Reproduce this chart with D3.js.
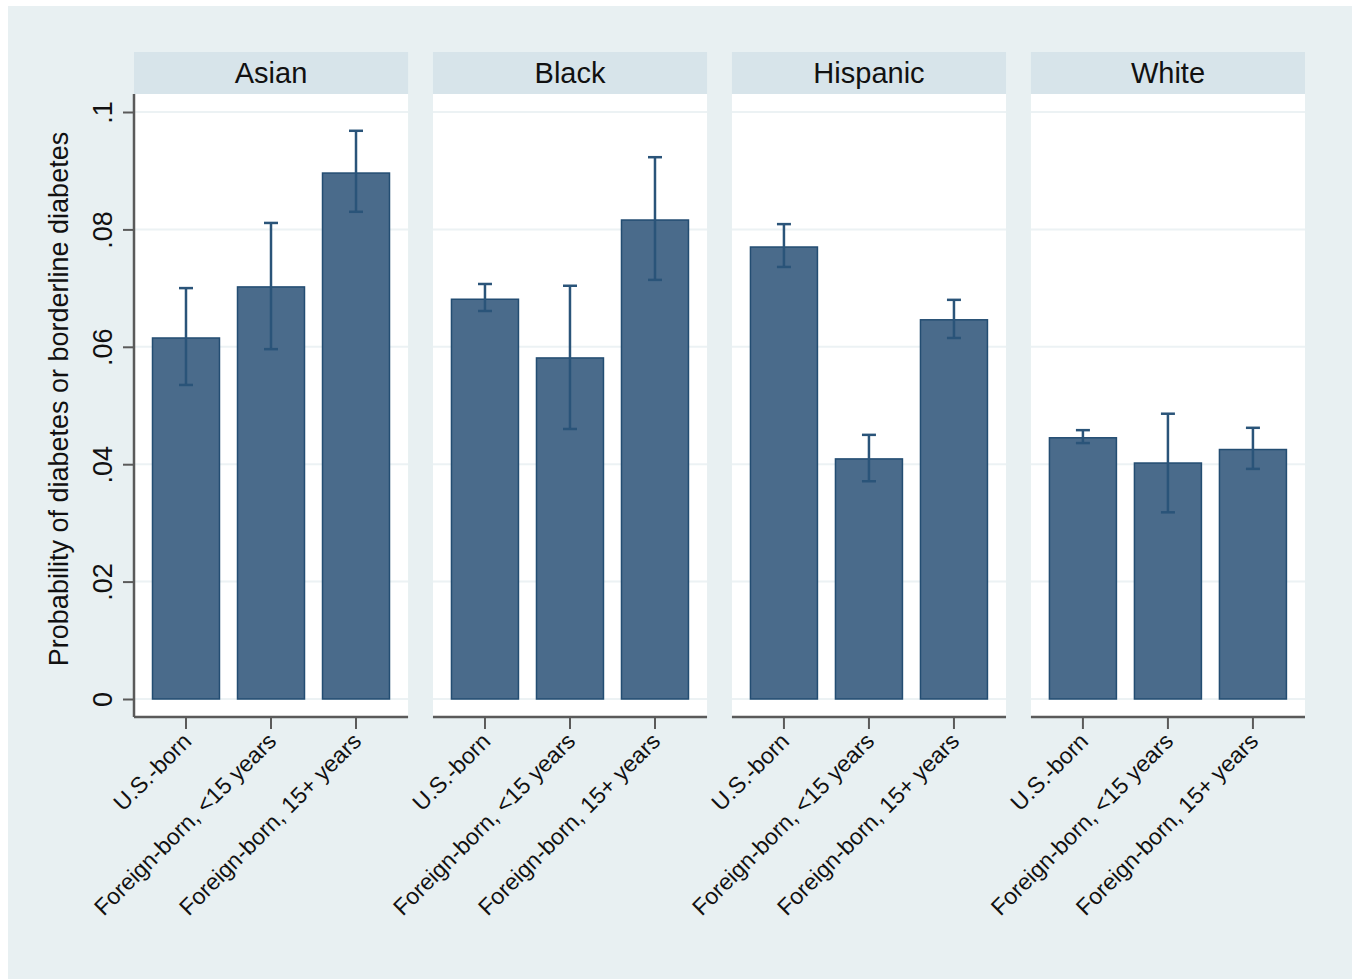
<!DOCTYPE html>
<html>
<head>
<meta charset="utf-8">
<script src="https://cdn.jsdelivr.net/npm/d3@7"></script>
<style>
  html, body { margin: 0; padding: 0; background: #ffffff; }
  svg { display: block; font-family: Arial, "Liberation Sans", sans-serif; }
</style>
</head>
<body>
<svg id="chart" width="1357" height="979"></svg>
<script>
// Panels (race/ethnicity) and nativity groups within each panel
const panels = ["Asian", "Black", "Hispanic", "White"];
const groups = ["U.S.-born", "Foreign-born, <15 years", "Foreign-born, 15+ years"];

// Predicted probability per panel, in group order
const asianValues    = [0.0615, 0.0702, 0.0896];
const blackValues    = [0.0681, 0.0581, 0.0816];
const hispanicValues = [0.0770, 0.0409, 0.0646];
const whiteValues    = [0.0445, 0.0402, 0.0425];

// 95% confidence bounds
const asianLower    = [0.0535, 0.0596, 0.0830];
const asianUpper    = [0.0700, 0.0811, 0.0968];
const blackLower    = [0.0661, 0.0460, 0.0714];
const blackUpper    = [0.0707, 0.0704, 0.0923];
const hispanicLower = [0.0736, 0.0371, 0.0615];
const hispanicUpper = [0.0809, 0.0450, 0.0680];
const whiteLower    = [0.0436, 0.0318, 0.0392];
const whiteUpper    = [0.0458, 0.0486, 0.0462];

const yTicks = [0, 0.02, 0.04, 0.06, 0.08, 0.1];
const yTickLabels = ["0", ".02", ".04", ".06", ".08", ".1"];
const yTitle = "Probability of diabetes or borderline diabetes";

const panelData = [
  { name: panels[0], values: asianValues,    lo: asianLower,    hi: asianUpper },
  { name: panels[1], values: blackValues,    lo: blackLower,    hi: blackUpper },
  { name: panels[2], values: hispanicValues, lo: hispanicLower, hi: hispanicUpper },
  { name: panels[3], values: whiteValues,    lo: whiteLower,    hi: whiteUpper }
];

const svg = d3.select("#chart");

// Colours
const bgColor = "#e8f0f2";
const stripColor = "#d7e4ea";
const barFill = "#4a6b8b";
const barStroke = "#234d72";
const ciColor = "#2a5479";
const axisColor = "#5a5a5a";
const gridColor = "#ecf2f4";

// Layout
const stripTop = 52, stripBottom = 94;
const plotBottom = 717;
const panelX = d3.scaleBand().domain(panels).range([134, 1305]).paddingInner(0.0833);
const panelW = panelX.bandwidth();

const y = d3.scaleLinear().domain([0, 0.1]).range([699, 112]);

// Outer graph region
svg.append("rect").attr("x", 8).attr("y", 6).attr("width", 1344).attr("height", 973).attr("fill", bgColor);

panelData.forEach((p, i) => {
  const x0 = panelX(p.name);
  const g = svg.append("g").attr("transform", `translate(${x0},0)`);

  // Header strip
  g.append("rect").attr("x", 0).attr("y", stripTop).attr("width", panelW).attr("height", stripBottom - stripTop)
    .attr("fill", stripColor);
  g.append("text").attr("x", panelW / 2).attr("y", (stripTop + stripBottom) / 2).attr("dy", "0.36em")
    .attr("text-anchor", "middle").attr("font-size", 29).attr("fill", "#111").text(p.name);

  // Plot area
  g.append("rect").attr("x", 0).attr("y", stripBottom).attr("width", panelW).attr("height", plotBottom - stripBottom)
    .attr("fill", "#ffffff");

  // Gridlines
  g.selectAll("line.grid").data(yTicks).join("line").attr("class", "grid")
    .attr("x1", 0).attr("x2", panelW).attr("y1", d => y(d)).attr("y2", d => y(d))
    .attr("stroke", gridColor).attr("stroke-width", 2);

  const x = d3.scaleBand().domain(groups).range([18.5, 255.5]).paddingInner(0.212);
  const bw = x.bandwidth();

  // Bars
  g.selectAll("rect.bar").data(groups).join("rect").attr("class", "bar")
    .attr("x", d => x(d)).attr("width", bw)
    .attr("y", (d, j) => y(p.values[j])).attr("height", (d, j) => y(0) - y(p.values[j]))
    .attr("fill", barFill).attr("stroke", barStroke).attr("stroke-width", 1.5);

  // Confidence intervals
  const ci = g.selectAll("g.ci").data(groups).join("g").attr("class", "ci")
    .attr("transform", d => `translate(${x(d) + bw / 2},0)`);
  ci.append("line").attr("x1", 0).attr("x2", 0)
    .attr("y1", (d, j) => y(p.hi[j])).attr("y2", (d, j) => y(p.lo[j]))
    .attr("stroke", ciColor).attr("stroke-width", 2.5);
  ci.append("line").attr("x1", -7).attr("x2", 7)
    .attr("y1", (d, j) => y(p.hi[j])).attr("y2", (d, j) => y(p.hi[j]))
    .attr("stroke", ciColor).attr("stroke-width", 2.5);
  ci.append("line").attr("x1", -7).attr("x2", 7)
    .attr("y1", (d, j) => y(p.lo[j])).attr("y2", (d, j) => y(p.lo[j]))
    .attr("stroke", ciColor).attr("stroke-width", 2.5);

  // X axis spanning the full panel width
  const xAxis = g.append("g").attr("transform", `translate(0,${plotBottom})`)
    .call(d3.axisBottom(x).tickSize(12).tickSizeOuter(0));
  xAxis.select(".domain").attr("d", `M0,0H${panelW}`).attr("stroke", axisColor).attr("stroke-width", 2.5);
  xAxis.selectAll(".tick line").attr("stroke", axisColor).attr("stroke-width", 2);
  xAxis.selectAll(".tick text")
    .attr("font-size", 23).attr("fill", "#111").attr("font-family", "Arial, 'Liberation Sans', sans-serif")
    .attr("text-anchor", "end")
    .attr("transform", "translate(-5,14) rotate(-45)")
    .attr("x", 0).attr("y", 0).attr("dy", "0.72em");

  // Y axis on the first panel only
  if (i === 0) {
    const yAxis = g.append("g").call(d3.axisLeft(y).tickValues(yTicks).tickFormat((d, k) => yTickLabels[k]).tickSize(11).tickSizeOuter(0));
    yAxis.select(".domain").attr("d", `M0,${stripBottom}V${plotBottom}`).attr("stroke", axisColor).attr("stroke-width", 2.5);
    yAxis.selectAll(".tick line").attr("stroke", axisColor).attr("stroke-width", 2);
    yAxis.selectAll(".tick text")
      .attr("font-size", 27).attr("fill", "#111").attr("font-family", "Arial, 'Liberation Sans', sans-serif")
      .attr("text-anchor", "middle").attr("x", 0).attr("y", 0).attr("dy", 0)
      .attr("transform", "translate(-22,0) rotate(-90)");
  }
});

// Y axis title
svg.append("text").attr("transform", `translate(68,399) rotate(-90)`)
  .attr("text-anchor", "middle").attr("font-size", 27).attr("fill", "#111").text(yTitle);
</script>
</body>
</html>
